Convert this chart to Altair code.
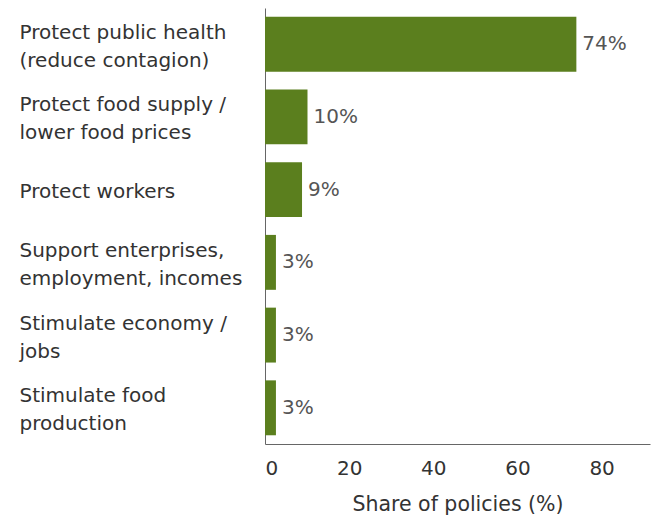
import altair as alt
import pandas as pd

categories = [
    "Protect public health|(reduce contagion)",
    "Protect food supply /|lower food prices",
    "Protect workers",
    "Support enterprises,|employment, incomes",
    "Stimulate economy /|jobs",
    "Stimulate food|production",
]
values = [74, 10.1, 8.8, 2.6, 2.6, 2.6]
value_labels = ["74%", "10%", "9%", "3%", "3%", "3%"]
x_ticks = [0, 20, 40, 60, 80]

df = pd.DataFrame({"cat": categories, "val": values, "lab": value_labels})

FONT = "DejaVu Sans"
TXT = "#333333"

y_enc = alt.Y(
    "cat:N",
    sort=categories,
    scale=alt.Scale(paddingInner=0.245, paddingOuter=0.12),
    axis=alt.Axis(
        title=None,
        ticks=False,
        labelAlign="left",
        labelBaseline={
            "condition": {"test": "indexof(datum.label, '|') >= 0", "value": "line-bottom"},
            "value": "middle",
        },
        labelPadding=246,
        labelOffset=2.5,
        labelExpr="split(datum.label, '|')",
        labelFont=FONT,
        labelFontSize=20,
        labelColor=TXT,
        labelLineHeight=28,
        labelLimit=0,
        domainColor="#666666",
        domainWidth=1,
    ),
)

x_enc = alt.X(
    "val:Q",
    scale=alt.Scale(domain=[0, 91.5], nice=False),
    axis=alt.Axis(
        title="Share of policies (%)",
        values=x_ticks,
        ticks=False,
        grid=False,
        labelAlign={
            "condition": {"test": "datum.value === 0", "value": "left"},
            "value": "center",
        },
        labelPadding=14,
        labelFont=FONT,
        labelFontSize=20,
        labelColor=TXT,
        labelFlush=False,
        titleFont=FONT,
        titleFontSize=20.5,
        titleFontWeight="normal",
        titleColor=TXT,
        titlePadding=16,
        domainColor="#666666",
        domainWidth=1,
    ),
)

bars = alt.Chart(df).mark_bar(color="#5b7f1e").encode(x=x_enc, y=y_enc)

labels = alt.Chart(df).mark_text(
    align="left", baseline="middle", dx=6, font=FONT, fontSize=20, color="#555555"
).encode(x="val:Q", y=alt.Y("cat:N", sort=categories), text="lab:N")

chart = (
    alt.layer(bars, labels)
    .properties(
        width=385,
        height=436,
        autosize=alt.AutoSizeParams(type="none"),
        padding={"left": 265, "top": 8, "right": 1, "bottom": 73},
    )
    .configure_view(stroke=None)
)

chart.save("out.html", embed_options={"renderer": "svg", "actions": False})
